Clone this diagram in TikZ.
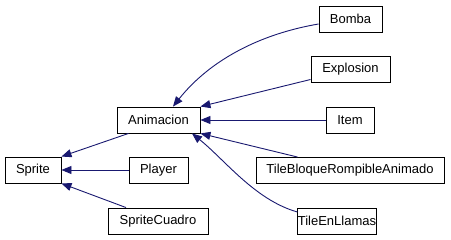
\documentclass[tikz,border=0pt]{standalone}
\usepackage{fontspec}
\setmainfont{Liberation Sans}
\usetikzlibrary{arrows.meta,calc}
\definecolor{edgeblue}{RGB}{25,25,112}
\begin{document}
\begin{tikzpicture}[x=1pt,y=-1pt,
  cls/.style={draw=black,line width=0.9pt,fill=white,minimum height=26pt,inner sep=0pt,
    font=\fontsize{13}{15}\selectfont,anchor=center},
  inherit/.style={draw=edgeblue,line width=0.9pt,
    -{Triangle[length=10pt,width=8pt,fill=edgeblue]}}]
\useasboundingbox (0,0) rectangle (451,240);
% classes
\node[cls,minimum width=56pt]  (Sprite)     at (33,170)    {Sprite};
\node[cls,minimum width=83pt]  (Animacion)  at (158.5,120) {Animacion};
\node[cls,minimum width=59pt]  (Player)     at (158.5,170) {Player};
\node[cls,minimum width=100pt] (SpriteCuadro) at (158,221) {SpriteCuadro};
\node[cls,minimum width=63pt]  (Bomba)      at (350.5,19)  {Bomba};
\node[cls,minimum width=79pt]  (Explosion)  at (350.5,69.5) {Explosion};
\node[cls,minimum width=48pt]  (Item)       at (350,120)   {Item};
\node[cls,minimum width=188pt] (TileBloque) at (350,170.5) {TileBloqueRompibleAnimado};
\node[cls,minimum width=74pt]  (TileEnLlamas) at (337,221) {TileEnLlamas};
% inheritance edges
\draw[inherit] ($(Animacion.south)+(-30,0)$) -- (Sprite.north east);
\draw[inherit] (Player.west) -- (Sprite.east);
\draw[inherit] ($(SpriteCuadro.north)+(-32,0)$) -- (Sprite.south east);
\draw[inherit] ($(Bomba.west)+(0,5)$) .. controls (260,34) and (210,60) .. ($(Animacion.north)+(14.5,0)$);
\draw[inherit] ($(Explosion.west)+(0,10)$) -- (Animacion.north east);
\draw[inherit] (Item.west) -- (Animacion.east);
\draw[inherit] ($(TileBloque.north west)+(42,0)$) -- (Animacion.south east);
\draw[inherit] ($(TileEnLlamas.west)+(0,-9)$) .. controls (255,200) and (225,160) .. ($(Animacion.south)+(33.5,0)$);
\end{tikzpicture}
\end{document}
